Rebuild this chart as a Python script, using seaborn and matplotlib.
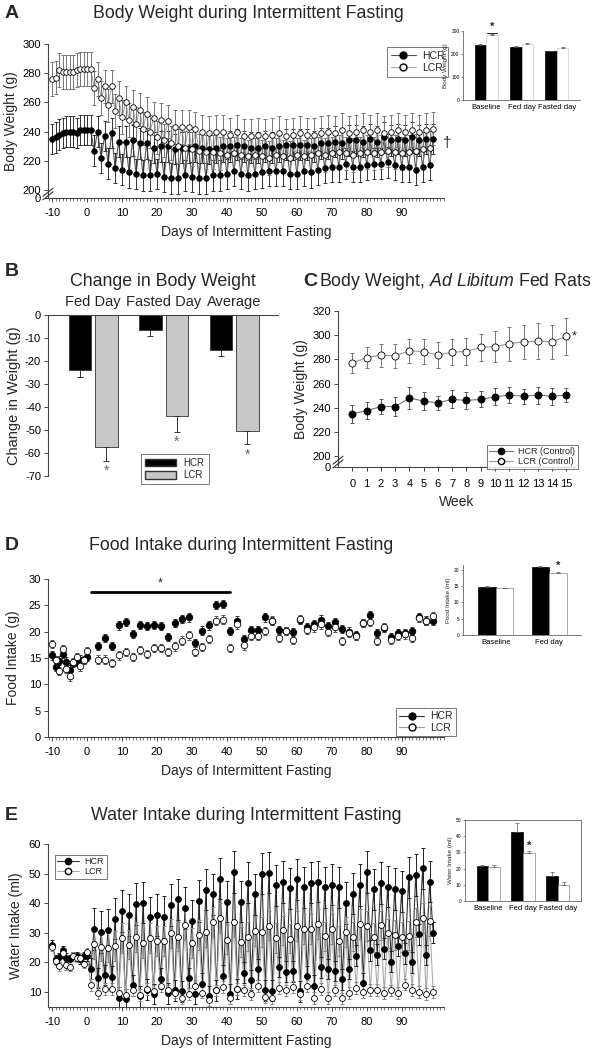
import pandas as pd
import matplotlib
matplotlib.use('Agg')
import matplotlib.pyplot as plt
import seaborn as sns
from matplotlib.ticker import MultipleLocator
from matplotlib.lines import Line2D
from matplotlib.patches import Patch

sns.set_style('ticks')
plt.rcParams['font.family'] = ['Liberation Sans', 'DejaVu Sans']
plt.rcParams['mathtext.fontset'] = 'custom'
plt.rcParams['mathtext.rm'] = 'Liberation Sans'
plt.rcParams['mathtext.it'] = 'Liberation Sans:italic'
plt.rcParams['axes.unicode_minus'] = False
plt.rcParams['axes.edgecolor'] = '#444444'
plt.rcParams['axes.linewidth'] = 0.8
plt.rcParams['xtick.color'] = '#444444'
plt.rcParams['ytick.color'] = '#444444'
plt.rcParams['xtick.labelcolor'] = 'black'
plt.rcParams['ytick.labelcolor'] = 'black'

# ---------------- data ----------------
baseline_days = list(range(-10, 1))
odd_days = list(range(1, 100, 2))
even_days = list(range(2, 99, 2))
food_days = list(range(3, 100, 2))

# A: body weight (g)
a_hcr_base = [235, 236, 238, 239, 240, 240, 240, 239, 241, 241, 241]
a_lcr_base = [276, 277, 282, 281, 281, 281, 281, 282, 283, 283, 283]
a_hcr_odd = [241, 240, 237, 239, 233, 233, 234, 232, 232, 229, 230, 230, 228, 229, 229,
             230, 229, 228, 229, 230, 230, 231, 230, 229, 229, 230, 229, 230, 231, 231,
             231, 231, 230, 232, 232, 233, 232, 234, 234, 233, 235, 233, 236, 234, 235,
             234, 236, 234, 235, 235]
a_hcr_even = [227, 222, 218, 215, 214, 212, 211, 210, 210, 211, 209, 208, 208, 210, 209,
              208, 208, 210, 210, 211, 213, 211, 210, 211, 212, 213, 213, 213, 211, 211,
              213, 212, 214, 215, 216, 216, 218, 216, 216, 217, 218, 218, 219, 217, 216,
              216, 214, 216, 217]
a_lcr_odd = [283, 276, 271, 271, 263, 260, 257, 255, 252, 249, 248, 247, 243, 243, 243,
             242, 240, 239, 240, 240, 238, 240, 237, 237, 238, 237, 238, 239, 237, 238,
             239, 238, 238, 239, 240, 239, 241, 239, 240, 241, 240, 241, 239, 240, 241,
             240, 241, 240, 241, 242]
a_lcr_even = [270, 263, 258, 254, 250, 248, 245, 242, 240, 236, 234, 232, 230, 229, 228,
              227, 226, 226, 225, 224, 225, 224, 223, 224, 223, 222, 224, 223, 222, 224,
              223, 224, 225, 224, 225, 226, 225, 224, 225, 226, 225, 226, 227, 226, 225,
              226, 227, 228, 229]
a_hcr_sem = 10.5
a_lcr_sem = 11.5

inset_a_periods = ['Baseline', 'Fed day', 'Fasted day']
inset_a_hcr = [240, 232, 212]
inset_a_lcr = [283, 245, 226]
inset_a_hcr_sem = [4, 3, 2]
inset_a_lcr_sem = [6, 5, 3]

# B: change in body weight (g)
b_periods = ['Fed Day', 'Fasted Day', 'Average']
b_hcr = [-24.0, -6.5, -15.0]
b_lcr = [-57.5, -43.8, -50.6]
b_hcr_sem = [2.8, 2.8, 2.8]
b_lcr_sem = [5.8, 6.9, 5.6]

# C: ad libitum body weight (g)
c_weeks = list(range(16))
c_hcr = [235, 237.5, 241, 241, 248, 245.5, 244, 247, 246, 247, 249, 250.5, 249.5, 250.5, 249.5, 250.5]
c_hcr_sem = [7.5, 7, 6, 8, 9, 7.5, 6, 7.5, 7, 6.5, 7, 6.5, 6, 7, 7, 5.5]
c_lcr = [277, 281.5, 283.5, 283, 287, 286.5, 283.5, 286, 286.5, 290, 290.5, 293, 294.5, 295, 294.5, 299]
c_lcr_sem = [8, 8.5, 9.5, 10, 10, 10, 10.5, 10.5, 11, 11, 13, 14, 14, 15, 14, 15]

# D: food intake (g)
d_hcr_base = [15.5, 13.3, 14.5, 15.8, 14.3, 12.8, 14.0, 14.3, 14.7, 14.6, 15.2]
d_lcr_base = [17.7, 14.6, 12.5, 16.7, 13.0, 11.5, 14.2, 15.1, 13.4, 14.6, 16.3]
d_hcr = [17.3, 18.8, 17.3, 21.2, 21.8, 19.6, 21.3, 21.1, 21.3, 21.1,
         19.0, 21.7, 22.4, 22.7, 17.9, 20.2, 21.2, 25.1, 25.3, 20.1,
         22.1, 18.6, 20.3, 20.3, 22.7, 22.0, 20.3, 20.1, 19.9, 22.2,
         20.8, 21.4, 22.3, 21.0, 21.8, 20.5, 20.0, 19.3, 21.6, 23.1,
         19.7, 20.7, 18.9, 19.8, 19.8, 20.1, 22.7, 22.1, 22.1]
d_lcr = [14.7, 14.7, 14.1, 15.5, 16.1, 15.2, 16.5, 15.8, 16.9, 16.9,
         16.1, 17.2, 18.3, 19.3, 16.2, 17.1, 18.6, 22.1, 22.3, 16.9,
         21.4, 17.4, 19.2, 19.2, 20.1, 22.1, 18.8, 20.1, 18.5, 22.4,
         20.4, 20.8, 21.4, 19.9, 20.8, 18.2, 19.7, 19.2, 21.6, 21.9,
         18.2, 20.8, 18.5, 19.2, 19.5, 18.8, 22.6, 22.0, 22.9]
d_sem = 0.8
d_sig_start, d_sig_end, d_sig_level = 1, 41, 27.6

inset_d_periods = ['Baseline', 'Fed day']
inset_d_hcr = [14.6, 21.0]
inset_d_lcr = [14.3, 19.0]
inset_d_hcr_sem = [0.3, 0.3]
inset_d_lcr_sem = [0.2, 0.3]

# E: water intake (ml)
e_hcr_base = [26.0, 21.0, 21.7, 24.0, 21.5, 21.0, 22.0, 22.0, 21.0, 22.0, 22.0]
e_lcr_base = [25.2, 20.5, 18.7, 23.0, 19.0, 18.5, 22.0, 21.5, 21.5, 19.5, 23.5]
e_hcr_fed = [31.3, 30.3, 31.0, 34.8, 37.3, 36.0, 39.7, 40.2, 35.2, 36.0,
             35.3, 39.4, 41.3, 38.3, 34.0, 40.8, 44.6, 43.0, 48.3, 40.5,
             50.5, 40.5, 46.9, 43.0, 50.0, 50.3, 46.0, 47.2, 45.0, 48.0,
             45.3, 46.9, 47.3, 45.3, 46.3, 45.3, 40.1, 43.2, 46.2, 50.5,
             44.7, 46.8, 45.6, 44.8, 44.0, 48.7, 49.5, 51.8, 47.3]
e_hcr_fast = [17.8, 14.7, 15.7, 15.2, 8.0, 7.5, 12.2, 8.5, 10.8, 9.3,
              14.5, 9.5, 10.5, 10.2, 14.7, 9.3, 12.8, 8.5, 10.5, 15.5,
              9.3, 11.0, 16.5, 14.0, 17.6, 10.5, 10.4, 18.4, 16.8, 17.0,
              10.2, 15.3, 12.1, 18.3, 17.7, 17.1, 14.2, 17.7, 22.3, 12.9,
              24.1, 22.6, 24.6, 20.2, 25.5, 23.0, 20.0, 29.5, 22.5, 30.0]
e_lcr_fed = [26.2, 25.3, 25.0, 25.5, 28.2, 26.0, 28.5, 26.5, 28.3, 27.3,
             27.3, 29.8, 28.7, 32.6, 26.6, 29.2, 30.1, 33.7, 35.0, 27.7,
             33.7, 26.8, 28.7, 30.6, 30.3, 32.4, 28.2, 30.8, 28.0, 32.3,
             31.2, 31.2, 33.0, 28.8, 31.3, 27.3, 30.2, 28.7, 33.0, 32.3,
             28.4, 32.5, 29.8, 29.3, 28.5, 29.0, 33.5, 35.0, 34.0]
e_lcr_fast = [12.3, 9.5, 11.0, 11.0, 9.8, 9.0, 10.7, 9.0, 11.0, 10.3,
              12.0, 10.5, 9.8, 8.0, 9.3, 12.0, 9.8, 7.3, 10.5, 11.8,
              7.8, 11.0, 10.5, 9.2, 12.0, 8.3, 8.0, 11.2, 10.5, 11.8,
              9.2, 12.0, 8.0, 11.0, 8.0, 10.5, 7.8, 9.7, 11.4, 10.0,
              10.6, 10.6, 9.7, 10.5, 9.5, 12.5, 10.6, 10.1, 9.2, 10.0]
e_hcr_sem = {'base': 1.5, 'fed': 7.0, 'fast': 3.5}
e_lcr_sem = {'base': 1.5, 'fed': 5.0, 'fast': 2.0}

inset_e_periods = ['Baseline', 'Fed day', 'Fasted day']
inset_e_hcr = [21.9, 42.5, 15.2]
inset_e_lcr = [21.0, 29.5, 9.9]
inset_e_hcr_sem = [0.3, 5.5, 2.6]
inset_e_lcr_sem = [1.3, 1.2, 1.8]

# ---------------- helpers ----------------
W, H = 597, 1050
fig = plt.figure(figsize=(W / 100, H / 100), dpi=100)
TITLE = 12.8


def box(x0, y0, x1, y1):
    return fig.add_axes([x0 / W, 1 - y1 / H, (x1 - x0) / W, (y1 - y0) / H])


def ftext(x, y, s, **kw):
    return fig.text(x / W, 1 - y / H, s, **kw)


def fpt(x, y):
    return (x / W, 1 - y / H)


def series(parts):
    frames = [pd.DataFrame({'day': d, 'value': v, 'err': e}) for d, v, e in parts]
    return pd.concat(frames).sort_values('day').reset_index(drop=True)


def draw_lines(ax, df, line_color, err_color, connect=True, lw=0.8):
    if connect:
        sns.lineplot(data=df, x='day', y='value', color=line_color, lw=lw, ax=ax,
                     estimator=None, sort=True, zorder=1)
    ax.errorbar(df['day'], df['value'], yerr=df['err'], fmt='none', ecolor=err_color,
                elinewidth=0.7, capsize=1.6, capthick=0.7, zorder=2)


def draw_marks(ax, df, face, s, z):
    sns.scatterplot(data=df, x='day', y='value', color=face, edgecolor='black',
                    linewidth=0.6, s=s, ax=ax, legend=False, zorder=z)


def style_days(ax):
    ax.set_xlim(-11.2, 102.1)
    ax.set_xticks(range(-10, 100, 10))
    ax.xaxis.set_minor_locator(MultipleLocator(1))
    ax.tick_params(axis='x', which='minor', length=2, width=0.5)
    ax.tick_params(axis='both', which='major', length=3, width=0.7, labelsize=8, pad=2)
    ax.tick_params(axis='x', which='major', pad=4)
    sns.despine(ax=ax)
    ax.set_xlabel('Days of Intermittent Fasting', fontsize=10, labelpad=5)


def axis_break(ax, yc):
    bb = ax.get_position()
    wpx, hpx = bb.width * W, bb.height * H
    for off in (-1.8, 1.8):
        ax.plot([-5 / wpx, 5 / wpx], [(yc + off - 4) / hpx, (yc + off + 4) / hpx],
                transform=ax.transAxes, color='#333333', lw=0.8, clip_on=False, zorder=5)


def inset_bars(ax, periods, hcr, lcr, hcr_sem, lcr_sem, lcr_edge):
    df = pd.DataFrame({'period': periods * 2, 'value': hcr + lcr,
                       'group': ['HCR'] * len(periods) + ['LCR'] * len(periods)})
    sns.barplot(data=df, x='period', y='value', hue='group',
                palette={'HCR': 'black', 'LCR': 'white'}, width=0.66,
                edgecolor='black', linewidth=0.5, ax=ax, legend=False)
    for p in ax.patches:
        if p.get_facecolor()[0] > 0.5:
            p.set_edgecolor(lcr_edge)
    xs = range(len(periods))
    ax.errorbar([x - 0.165 for x in xs], hcr, yerr=[[0] * len(hcr), hcr_sem], fmt='none',
                ecolor='#555555', elinewidth=0.5, capsize=1.5, capthick=0.5)
    ax.errorbar([x + 0.165 for x in xs], lcr, yerr=[[0] * len(lcr), lcr_sem], fmt='none',
                ecolor='#555555', elinewidth=0.5, capsize=1.5, capthick=0.5)
    ax.set_xlabel('')
    ax.tick_params(axis='y', labelsize=3.5, length=1.5, width=0.4, pad=1)
    ax.tick_params(axis='x', labelsize=5.5, length=0, pad=3)
    for s in ax.spines.values():
        s.set_linewidth(0.6)
        s.set_color('#666666')


def group_handles(labels, line_colors, ms=5):
    return [Line2D([], [], color=line_colors[0], lw=0.8, marker='o', ms=ms,
                   markerfacecolor='black', markeredgecolor='black', label=labels[0]),
            Line2D([], [], color=line_colors[1], lw=0.8, marker='o', ms=ms,
                   markerfacecolor='white', markeredgecolor='black', label=labels[1])]


def place_legend(ax, handles, x, y, size, **kw):
    opts = dict(borderpad=0.35, handlelength=2.4, handletextpad=0.6, labelspacing=0.2)
    opts.update(kw)
    leg = ax.legend(handles=handles, loc='upper left', bbox_to_anchor=fpt(x, y),
                    bbox_transform=fig.transFigure, fontsize=size, frameon=True,
                    fancybox=False, edgecolor='#555555', numpoints=1, **opts)
    leg.get_frame().set_linewidth(0.7)
    return leg


# ---------------- panel A ----------------
axA = box(48, 44, 444, 198)
dfA_h = series([(baseline_days, a_hcr_base, a_hcr_sem), (odd_days, a_hcr_odd, a_hcr_sem),
                (even_days, a_hcr_even, a_hcr_sem)])
dfA_l = series([(baseline_days, a_lcr_base, a_lcr_sem), (odd_days, a_lcr_odd, a_lcr_sem),
                (even_days, a_lcr_even, a_lcr_sem)])
draw_lines(axA, dfA_h, '#555555', '#333333')
draw_lines(axA, dfA_l, '#aaaaaa', '#777777')
draw_marks(axA, dfA_h, 'black', 16, 3)
draw_marks(axA, dfA_l, 'white', 16, 4)
style_days(axA)
axA.set_ylim(194.5, 300)
axA.set_yticks([194.5, 200, 220, 240, 260, 280, 300])
axA.set_yticklabels(['0', '200', '220', '240', '260', '280', '300'])
axA.set_ylabel('Body Weight (g)', fontsize=10, labelpad=3)
axis_break(axA, 4)
axA.text(101.8, a_hcr_odd[-1] - 3, '\u2020', fontsize=11, ha='left', va='center')
place_legend(axA, group_handles(['HCR', 'LCR'], ['#555555', '#aaaaaa']), 382, 42, 7.5)
ftext(5, 14, 'A', fontsize=14, fontweight='bold', ha='left', va='center')
ftext(248, 14, 'Body Weight during Intermittent Fasting', fontsize=TITLE, ha='center', va='center')

axAi = box(463, 31, 580, 100)
inset_bars(axAi, inset_a_periods, inset_a_hcr, inset_a_lcr, inset_a_hcr_sem,
           inset_a_lcr_sem, '#cccccc')
axAi.set_ylim(0, 300)
axAi.set_xlim(-0.66, 2.66)
axAi.set_yticks([0, 100, 200, 300])
axAi.set_ylabel('Body Weight (g)', fontsize=4.5, labelpad=2)
sns.despine(ax=axAi)
axAi.plot([0.03, 0.3], [290, 290], color='black', lw=0.6)
axAi.text(0.165, 296, '*', fontsize=8, ha='center', va='bottom', fontweight='bold')

# ---------------- panel B ----------------
axB = box(48, 315, 278, 476)
dfB = pd.DataFrame({'period': b_periods * 2, 'change': b_hcr + b_lcr,
                    'group': ['HCR'] * 3 + ['LCR'] * 3})
sns.barplot(data=dfB, x='period', y='change', hue='group',
            palette={'HCR': 'black', 'LCR': '#c8c8c8'}, width=0.75, gap=0.15,
            edgecolor='#333333', linewidth=0.6, ax=axB, legend=False)
xs = range(3)
axB.errorbar([x - 0.1875 for x in xs], b_hcr, yerr=[b_hcr_sem, [0] * 3], fmt='none',
             ecolor='#333333', elinewidth=0.7, capsize=2, capthick=0.7)
axB.errorbar([x + 0.1875 for x in xs], b_lcr, yerr=[b_lcr_sem, [0] * 3], fmt='none',
             ecolor='#333333', elinewidth=0.7, capsize=2, capthick=0.7)
for x, v, e in zip(xs, b_lcr, b_lcr_sem):
    axB.text(x + 0.1875, v - e - 4.5, '*', fontsize=10, color='#666666', ha='center', va='center')
for x, lab in zip(xs, b_periods):
    ftext(93 + 70.5 * x, 302, lab, fontsize=10.5, ha='center', va='center')
axB.set_ylim(-70, 0)
axB.set_xlim(-0.64, 2.62)
axB.set_yticks(range(-70, 1, 10))
axB.set_xticks([])
axB.set_xlabel('')
axB.set_ylabel('Change in Weight (g)', fontsize=10.5, labelpad=3)
axB.tick_params(axis='y', labelsize=8, length=3, width=0.7, pad=2)
axB.spines['right'].set_visible(False)
axB.spines['bottom'].set_visible(False)
legB = axB.legend(handles=[Patch(facecolor='black', edgecolor='#333333', label='HCR'),
                           Patch(facecolor='#c8c8c8', edgecolor='#333333', label='LCR')],
                  loc='upper left', bbox_to_anchor=fpt(136, 449), bbox_transform=fig.transFigure,
                  fontsize=7, frameon=True, fancybox=False, edgecolor='#555555',
                  borderpad=0.4, handlelength=3.2, handleheight=0.8, labelspacing=0.25)
legB.get_frame().set_linewidth(0.7)
ftext(5, 272, 'B', fontsize=14, fontweight='bold', ha='left', va='center')
ftext(163, 281, 'Change in Body Weight', fontsize=TITLE, ha='center', va='center')

# ---------------- panel C ----------------
axC = box(338, 311, 575, 467)
dfC_h = pd.DataFrame({'day': c_weeks, 'value': c_hcr, 'err': c_hcr_sem})
dfC_l = pd.DataFrame({'day': c_weeks, 'value': c_lcr, 'err': c_lcr_sem})
draw_lines(axC, dfC_h, '#777777', '#555555')
draw_lines(axC, dfC_l, '#999999', '#777777')
draw_marks(axC, dfC_h, 'black', 26, 3)
draw_marks(axC, dfC_l, 'white', 26, 4)
axC.set_xlim(-1, 15.6)
axC.set_ylim(191, 320)
axC.set_xticks(c_weeks)
axC.set_yticks([191, 200, 220, 240, 260, 280, 300, 320])
axC.set_yticklabels(['0', '200', '220', '240', '260', '280', '300', '320'])
axC.tick_params(axis='both', length=3, width=0.7, labelsize=8, pad=2)
axC.tick_params(axis='x', pad=6)
sns.despine(ax=axC)
axC.set_xlabel('Week', fontsize=10, labelpad=4)
axC.set_ylabel('Body Weight (g)', fontsize=10, labelpad=3)
axis_break(axC, 5)
axC.text(c_weeks[-1] + 0.4, c_lcr[-1], '*', fontsize=9, ha='left', va='center')
place_legend(axC, group_handles(['HCR (Control)', 'LCR (Control)'], ['#777777', '#999999'], ms=4.5),
             482, 440, 6.5, borderpad=0.3, labelspacing=0.1, handlelength=2.6)
ftext(303, 281, 'C', fontsize=14, fontweight='bold', ha='left', va='center')
ftext(319, 281, r'Body Weight, $\mathit{Ad\ Libitum}$ Fed Rats', fontsize=12.8,
      ha='left', va='center')

# ---------------- panel D ----------------
axD = box(48, 579, 444, 737)
dfD_h = series([(baseline_days, d_hcr_base, d_sem), (food_days, d_hcr, d_sem)])
dfD_l = series([(baseline_days, d_lcr_base, d_sem), (food_days, d_lcr, d_sem)])
draw_lines(axD, dfD_h, None, '#333333', connect=False)
draw_lines(axD, dfD_l, None, '#555555', connect=False)
draw_marks(axD, dfD_h, 'black', 22, 3)
draw_marks(axD, dfD_l, 'white', 22, 4)
style_days(axD)
axD.set_ylim(0, 30)
axD.set_yticks(range(0, 31, 5))
axD.set_ylabel('Food Intake (g)', fontsize=10, labelpad=6)
axD.plot([d_sig_start, d_sig_end], [d_sig_level, d_sig_level], color='black', lw=2)
axD.text((d_sig_start + d_sig_end) / 2, d_sig_level + 0.5, '*', fontsize=9, ha='center', va='bottom')
place_legend(axD, group_handles(['HCR', 'LCR'], ['#333333', '#999999']), 391, 703, 7.5,
             labelspacing=0.15, borderpad=0.3)
ftext(5, 546, 'D', fontsize=14, fontweight='bold', ha='left', va='center')
ftext(241, 546, 'Food Intake during Intermittent Fasting', fontsize=TITLE, ha='center', va='center')

axDi = box(463, 565, 581, 635)
inset_bars(axDi, inset_d_periods, inset_d_hcr, inset_d_lcr, inset_d_hcr_sem,
           inset_d_lcr_sem, '#888888')
axDi.set_ylim(0, 21.5)
axDi.set_xlim(-0.62, 1.6)
axDi.set_yticks([0, 5, 10, 15, 20])
axDi.set_ylabel('Food Intake (ml)', fontsize=4.5, labelpad=2)
sns.despine(ax=axDi)
axDi.text(1.165, inset_d_lcr[1] + 0.6, '*', fontsize=8, ha='center', va='bottom', fontweight='bold')

# ---------------- panel E ----------------
axE = box(48, 844, 444, 1007)
dfE_h = series([(baseline_days, e_hcr_base, e_hcr_sem['base']), (even_days, e_hcr_fed, e_hcr_sem['fed']),
                (odd_days, e_hcr_fast, e_hcr_sem['fast'])])
dfE_l = series([(baseline_days, e_lcr_base, e_lcr_sem['base']), (even_days, e_lcr_fed, e_lcr_sem['fed']),
                (odd_days, e_lcr_fast, e_lcr_sem['fast'])])
draw_lines(axE, dfE_h, '#333333', '#222222')
draw_lines(axE, dfE_l, '#aaaaaa', '#888888')
draw_marks(axE, dfE_h, 'black', 18, 3)
draw_marks(axE, dfE_l, 'white', 18, 4)
style_days(axE)
axE.set_ylim(4.9, 60)
axE.set_yticks(range(10, 61, 10))
axE.set_ylabel('Water Intake (ml)', fontsize=10, labelpad=4)
place_legend(axE, group_handles(['HCR', 'LCR'], ['#333333', '#aaaaaa'], ms=4.5), 50, 850, 6.5,
             labelspacing=0.1, borderpad=0.3)
ftext(5, 815, 'E', fontsize=14, fontweight='bold', ha='left', va='center')
ftext(246, 815, 'Water Intake during Intermittent Fasting', fontsize=TITLE, ha='center', va='center')

axEi = box(465, 820, 581, 901)
inset_bars(axEi, inset_e_periods, inset_e_hcr, inset_e_lcr, inset_e_hcr_sem,
           inset_e_lcr_sem, '#888888')
axEi.set_ylim(0, 50)
axEi.set_xlim(-0.66, 2.66)
axEi.set_yticks([0, 10, 20, 30, 40, 50])
axEi.set_ylabel('Water Intake (ml)', fontsize=4.5, labelpad=2)
axEi.text(1.165, inset_e_lcr[1] + inset_e_lcr_sem[1] + 0.5, '*', fontsize=8, ha='center',
          va='bottom', fontweight='bold')

fig.savefig('out.png', dpi=100)
